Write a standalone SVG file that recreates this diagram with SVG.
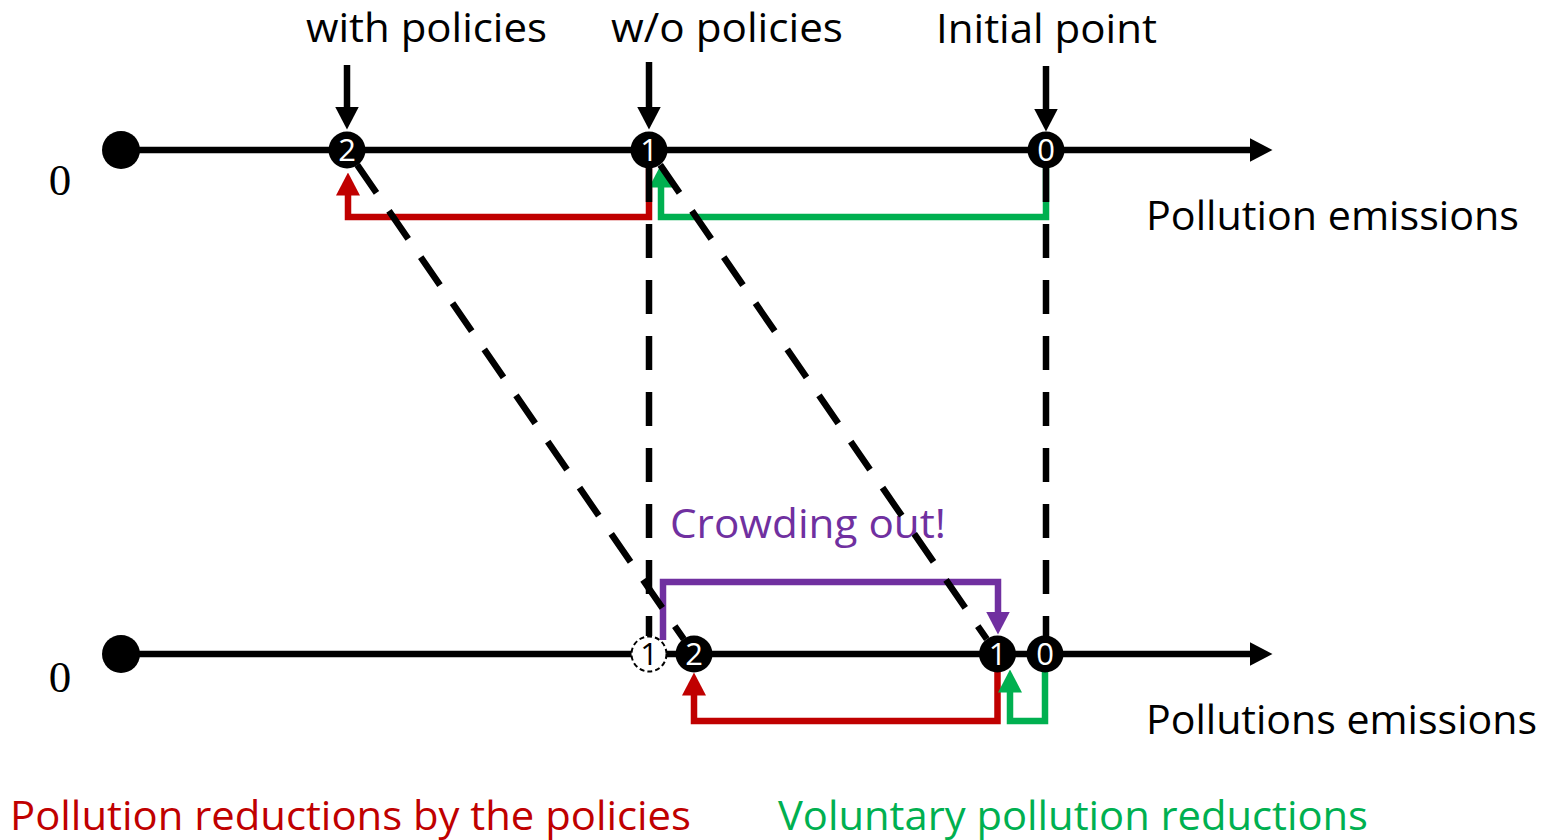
<svg xmlns="http://www.w3.org/2000/svg" width="1557" height="840" viewBox="0 0 1557 840">
<style>
.lbl{font-family:"Open Sans","Noto Sans",sans-serif;font-size:41px;fill:#000}
.zero{font-family:"Liberation Serif",serif;font-size:45px;fill:#000}
.ax{stroke:#000;stroke-width:6.5;fill:none}
.dash{stroke:#000;stroke-width:6.5;fill:none;stroke-dasharray:34 22}
.red{stroke:#C00000;stroke-width:6.5;fill:none}
.grn{stroke:#00B050;stroke-width:6.5;fill:none}
.pur{stroke:#7030A0;stroke-width:6.5;fill:none}
.node circle{fill:#000}
.node text{font-family:"Open Sans","Noto Sans",sans-serif;font-size:31px;fill:#fff;text-anchor:middle}
</style>
<defs>
<marker id="ahK" viewBox="0 0 23 24" refX="0.5" refY="12" markerWidth="23" markerHeight="24" orient="auto" markerUnits="userSpaceOnUse"><path d="M0,0 L23,12 L0,24 z" fill="#000"/></marker>
<marker id="ahR" viewBox="0 0 23 24" refX="0.5" refY="12" markerWidth="23" markerHeight="24" orient="auto" markerUnits="userSpaceOnUse"><path d="M0,0 L23,12 L0,24 z" fill="#C00000"/></marker>
<marker id="ahG" viewBox="0 0 23 24" refX="0.5" refY="12" markerWidth="23" markerHeight="24" orient="auto" markerUnits="userSpaceOnUse"><path d="M0,0 L23,12 L0,24 z" fill="#00B050"/></marker>
<marker id="ahP" viewBox="0 0 23 24" refX="0.5" refY="12" markerWidth="23" markerHeight="24" orient="auto" markerUnits="userSpaceOnUse"><path d="M0,0 L23,12 L0,24 z" fill="#7030A0"/></marker>
</defs>

<g id="axes">
<path class="ax" d="M121,150 H1250" marker-end="url(#ahK)"/>
<circle cx="121" cy="150" r="19" fill="#000"/>
<path class="ax" d="M121,654 H1250" marker-end="url(#ahK)"/>
<circle cx="121" cy="654" r="19" fill="#000"/>
<text class="zero" x="60" y="195" text-anchor="middle">0</text>
<text class="zero" x="60" y="692" text-anchor="middle">0</text>
<text class="lbl" x="1146" y="230" textLength="373" lengthAdjust="spacingAndGlyphs">Pollution emissions</text>
<text class="lbl" x="1146" y="734" textLength="391" lengthAdjust="spacingAndGlyphs">Pollutions emissions</text>
</g>

<g id="connectors">
<path class="ax" d="M347,65 V107" marker-end="url(#ahK)"/>
<path class="ax" d="M649,62 V107" marker-end="url(#ahK)"/>
<path class="ax" d="M1046,66 V109" marker-end="url(#ahK)"/>
<path class="red" d="M649,160 V217 H348 V195" marker-end="url(#ahR)"/>
<path class="grn" d="M1046,160 V217 H661 V187" marker-end="url(#ahG)"/>
<path class="pur" d="M663,640 V582 H998 V612" marker-end="url(#ahP)"/>
<path class="red" d="M997.5,665 V721 H694 V695" marker-end="url(#ahR)"/>
<path class="grn" d="M1045,665 V721 H1010 V692" marker-end="url(#ahG)"/>
<text id="crowding" x="670" y="538" textLength="276" lengthAdjust="spacingAndGlyphs" style="font-family:'Open Sans','Noto Sans',sans-serif;font-size:41px;fill:#7030A0">Crowding out!</text>
<path class="dash" d="M649,168 V636"/>
<path class="dash" d="M1046,168 V636"/>
<path class="dash" d="M357.2,164.8 L683.8,639.2"/>
<path class="dash" d="M660.2,164.8 L986.8,639.2"/>
</g>

<g id="node-top-2" class="node"><circle cx="347" cy="150" r="18.5"/><text x="347" y="161">2</text></g>
<g id="node-top-1" class="node"><circle cx="649" cy="150" r="18.5"/><text x="649" y="161">1</text></g>
<g id="node-top-0" class="node"><circle cx="1046" cy="150" r="18.5"/><text x="1046" y="161">0</text></g>
<g id="node-bot-1-old"><circle cx="649" cy="654" r="17.5" fill="#fff" stroke="#000" stroke-width="2" stroke-dasharray="5 3"/><text x="649" y="665" style="font-family:'Open Sans','Noto Sans',sans-serif;font-size:31px;fill:#000;text-anchor:middle">1</text></g>
<g id="node-bot-2" class="node"><circle cx="694" cy="654" r="18.5"/><text x="694" y="665">2</text></g>
<g id="node-bot-1" class="node"><circle cx="997.5" cy="654" r="18.5"/><text x="997.5" y="665">1</text></g>
<g id="node-bot-0" class="node"><circle cx="1045" cy="654" r="18.5"/><text x="1045" y="665">0</text></g>

<g id="labels">
<text class="lbl" x="306" y="42" textLength="241" lengthAdjust="spacingAndGlyphs">with policies</text>
<text class="lbl" x="611" y="42" textLength="232" lengthAdjust="spacingAndGlyphs">w/o policies</text>
<text class="lbl" x="936" y="43" textLength="221" lengthAdjust="spacingAndGlyphs">Initial point</text>
<text class="lbl" x="10" y="830" textLength="681" lengthAdjust="spacingAndGlyphs" style="fill:#C00000">Pollution reductions by the policies</text>
<text class="lbl" x="778" y="830" textLength="590" lengthAdjust="spacingAndGlyphs" style="fill:#00B050">Voluntary pollution reductions</text>
</g>
</svg>
